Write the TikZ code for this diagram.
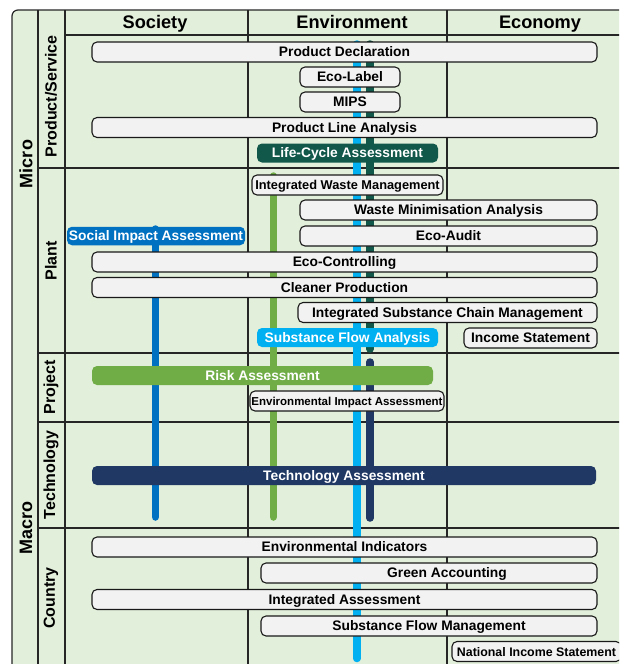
\documentclass[tikz,border=0pt]{standalone}
\usepackage{fontspec}
\setmainfont{Liberation Sans}
\definecolor{bg}{HTML}{E2EFDA}
\definecolor{boxfill}{HTML}{F2F2F2}
\definecolor{gridc}{HTML}{262626}
\definecolor{lcateal}{HTML}{11574A}
\definecolor{sblue}{HTML}{0070C0}
\definecolor{lblue}{HTML}{00B0F0}
\definecolor{rgreen}{HTML}{70AD47}
\definecolor{navyc}{HTML}{203864}
\tikzset{
  gbox/.style={draw=black!90, fill=boxfill, line width=1.1pt, rounded corners=5pt, inner sep=0pt,
    minimum height=20pt, text height=12pt, text depth=2.3pt,
    font=\bfseries\fontsize{13.8}{15}\selectfont, text=black},
  cbox/.style={rounded corners=5pt, inner sep=0pt, minimum height=19pt, text height=12pt, text depth=2.3pt,
    font=\bfseries\fontsize{13.8}{15}\selectfont, text=white},
  bar/.style={line width=7.5pt, line cap=round},
  gridline/.style={draw=gridc, line width=1.2pt},
  hdr/.style={anchor=base, font=\bfseries\fontsize{18.2}{20}\selectfont},
  rowlab/.style={rotate=90, font=\bfseries\fontsize{16}{18}\selectfont},
  sidelab/.style={rotate=90, font=\bfseries\fontsize{18}{20}\selectfont},
}
\begin{document}
\begin{tikzpicture}[x=1pt, y=-1pt]
\useasboundingbox (0,0) rectangle (619,664);
\clip (0,0) rectangle (619,664);
% background and frame
\fill[bg, rounded corners=6pt] (660,10) -- (12,10) -- (12,700) -- (660,700) -- cycle;
\draw[gridline, rounded corners=6pt] (660,10) -- (12,10) -- (12,700);
\draw[gridline] (38,10) -- (38,700);
\draw[gridline] (65,10) -- (65,700);
\draw[gridline] (248,10) -- (248,700);
\draw[gridline] (447,10) -- (447,700);
\draw[gridline] (65,35) -- (660,35);
\draw[gridline] (38,168) -- (660,168);
\draw[gridline] (38,353) -- (660,353);
\draw[gridline] (38,422) -- (660,422);
\draw[gridline] (38,528) -- (660,528);
% headers
\node[hdr] (hsoc) at (155,28.5) {Society};
\node[hdr] (henv) at (352,28.5) {Environment};
\node[hdr] (heco) at (540,28.5) {Economy};
% side labels
\node[sidelab] (micro) at (26,164) {Micro};
\node[sidelab] (macro) at (26,528) {Macro};
\node[rowlab] (rps) at (51,96.5) {Product/Service};
\node[rowlab] (rpl) at (51,261) {Plant};
\node[rowlab] (rpr) at (51,387) {Project};
\node[rowlab] (rte) at (51,475) {Technology};
\node[rowlab] (rco) at (51,598) {Country};
% bars
\coordinate (b1a) at (155.3,229); \coordinate (b1b) at (155.3,517);
\coordinate (b2a) at (273.3,176); \coordinate (b2b) at (273.3,517);
\coordinate (b3a) at (356.8,44);  \coordinate (b3b) at (356.8,658.5);
\coordinate (b4a) at (370,44);    \coordinate (b4b) at (370,349);
\coordinate (b5a) at (370,362);   \coordinate (b5b) at (370,518);
\draw[bar, sblue] (b1a) -- (b1b);
\draw[bar, rgreen] (b2a) -- (b2b);
\draw[bar, lblue] (b3a) -- (b3b);
\draw[bar, lcateal] (b4a) -- (b4b);
\draw[bar, navyc] (b5a) -- (b5b);
% boxes
\node[gbox, minimum width=505pt] (pd) at (344.5,52) {Product Declaration};
\node[gbox, minimum width=100pt] (el) at (350,77) {Eco-Label};
\node[gbox, minimum width=100pt] (mips) at (350,102) {MIPS};
\node[gbox, minimum width=505pt] (pla) at (344.5,127.5) {Product Line Analysis};
\node[cbox, fill=lcateal, minimum width=181pt] (lca) at (347.5,153) {Life-Cycle Assessment};
\node[gbox, minimum width=191pt, font=\bfseries\fontsize{12.8}{14}\selectfont] (iwm) at (347.5,185) {Integrated Waste Management};
\node[gbox, minimum width=297pt] (wma) at (448.5,210) {Waste Minimisation Analysis};
\node[gbox, minimum width=297pt] (ea) at (448.5,236) {Eco-Audit};
\node[cbox, fill=sblue, minimum width=178pt, minimum height=18.5pt] (sia) at (156,236) {Social Impact Assessment};
\node[gbox, minimum width=505pt] (ec) at (344.5,262) {Eco-Controlling};
\node[gbox, minimum width=505pt] (cp) at (344.5,287.5) {Cleaner Production};
\node[gbox, minimum width=299pt] (iscm) at (447.5,312.5) {Integrated Substance Chain Management};
\node[cbox, fill=lblue, minimum width=181pt] (sfa) at (347.5,337.5) {Substance Flow Analysis};
\node[gbox, minimum width=133pt] (is) at (530.5,338) {Income Statement};
\node[cbox, fill=rgreen, minimum width=341pt] (ra) at (262.5,375.5) {Risk Assessment};
\node[gbox, minimum width=194pt, font=\bfseries\fontsize{11.5}{13}\selectfont] (eia) at (347,401) {Environmental Impact Assessment};
\node[cbox, fill=navyc, minimum width=504pt] (ta) at (344,475.5) {Technology Assessment};
\node[gbox, minimum width=505pt] (ei) at (344.5,547) {Environmental Indicators};
\node[gbox, minimum width=336pt] (ga) at (429,573) {\hspace*{36pt}Green Accounting};
\node[gbox, minimum width=505pt] (ia) at (344.5,599.5) {Integrated Assessment};
\node[gbox, minimum width=336pt] (sfm) at (429,626) {Substance Flow Management};
\node[gbox, minimum width=169pt, font=\bfseries\fontsize{12.4}{14}\selectfont] (nis) at (536.5,651.5) {National Income Statement};
\end{tikzpicture}
\end{document}
